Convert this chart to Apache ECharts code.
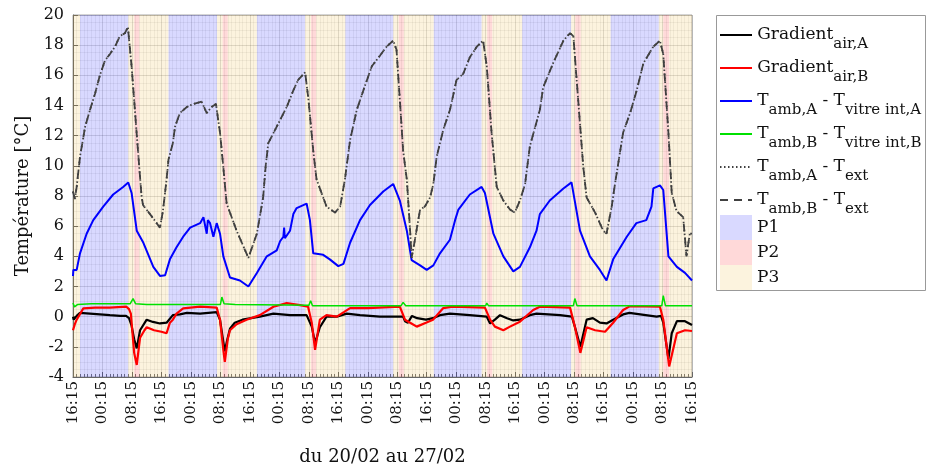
<!DOCTYPE html>
<html>
<head>
<meta charset="utf-8">
<script src="https://cdn.jsdelivr.net/npm/echarts@6/dist/echarts.min.js"></script>
<style>
  html, body { margin: 0; background: #fff; }
  #chart { width: 928px; height: 473px; }
</style>
</head>
<body>
<div id="chart"></div>
<script>
// temps en heures depuis le 20/02 16:15
const startHour = 16.25;

// Gradient air A  [h, °C]
const gradAirA = [[0,0],[0.2,-0.2],[1.0,0.05],[1.9,0.25],[4.6,0.2],[7.3,0.15],[10,0.1],[12.8,0.05],[14.4,0.05],[15.2,-0.1],[15.9,-0.6],[16.6,-1.5],[17.3,-2.1],[18.2,-0.9],[20.0,-0.2],[21.7,-0.35],[23.6,-0.45],[25.4,-0.4],[27.1,0.1],[29.0,0.15],[30.9,0.25],[34.5,0.2],[39.0,0.3],[39.9,-0.2],[40.7,-1.5],[41.2,-2.3],[41.8,-1.6],[42.6,-0.8],[43.9,-0.4],[46,-0.2],[50.7,0],[54.4,0.2],[58.9,0.1],[63.4,0.1],[64.8,-0.66],[65.7,-1.75],[67.0,-0.7],[68.8,0],[71.6,0],[74.3,0.2],[77.9,0.1],[83.3,0],[89.6,0],[90.1,-0.3],[90.9,-0.4],[92,0.05],[93.4,-0.1],[95.8,-0.2],[97.7,-0.1],[99.6,0.1],[102.3,0.2],[107.7,0.1],[112.3,0],[113.2,-0.45],[114.5,-0.2],[115.9,0.1],[117.8,-0.1],[119.5,-0.25],[121.3,-0.2],[124.0,0.1],[125.8,0.2],[132.2,0.1],[135.4,0],[136.2,-0.66],[137.7,-2.0],[139.4,-0.2],[141.1,-0.1],[143.0,-0.4],[144.8,-0.45],[146.6,-0.2],[149.3,0.15],[151,0.25],[158.4,0.0],[159.6,0.05],[160.2,-0.4],[161.6,-2.8],[162.5,-1.1],[163.9,-0.3],[166.1,-0.3],[168,-0.55]];

// Gradient air B
const gradAirB = [[0,-0.9],[0.5,-0.5],[1.0,-0.2],[2.8,0.55],[6,0.6],[10,0.6],[14.5,0.66],[15.2,0.5],[15.7,0.2],[16.6,-2.4],[17.3,-3.2],[18.2,-1.4],[19.4,-0.9],[20.0,-0.7],[22.0,-0.9],[24.0,-1.0],[25.4,-1.1],[26.3,-0.4],[27.1,-0.2],[28.1,0.2],[29.9,0.55],[34.5,0.66],[39.0,0.6],[39.9,-0.2],[40.8,-2.2],[41.2,-3.0],[42.0,-1.5],[42.6,-0.9],[44.4,-0.5],[47.1,-0.2],[50.7,0.1],[54.4,0.66],[58,0.9],[61.6,0.77],[63.8,0.66],[64.8,-0.4],[65.7,-2.2],[67.0,-0.2],[68.8,0.1],[71.6,0.0],[73.5,0.3],[75.2,0.57],[80,0.57],[88.7,0.66],[90.1,-0.2],[91.5,-0.4],[93.3,-0.66],[95.8,-0.4],[97.7,-0.2],[100.5,0.57],[103,0.66],[111.8,0.6],[113.2,-0.2],[114.5,-0.66],[116.8,-0.9],[118.6,-0.66],[121.3,-0.33],[124.9,0.44],[126.7,0.66],[134.9,0.6],[136.2,-0.66],[137.7,-2.4],[139.4,-0.7],[141.7,-0.9],[144.4,-1.0],[146.6,-0.4],[149.3,0.44],[151.2,0.7],[159.3,0.66],[160.2,-0.2],[161.8,-3.3],[163.9,-1.1],[166.1,-0.9],[168,-0.95]];

// Tamb,A - Tvitre int,A
const vitreA = [[0,2.7],[0.1,3.1],[1.0,3.1],[1.9,4.2],[3.7,5.5],[5.5,6.4],[8.2,7.3],[10.9,8.1],[13.6,8.6],[15.0,8.9],[15.9,8.2],[17.3,5.7],[19.1,4.9],[21.8,3.3],[23.6,2.7],[25.0,2.75],[26.3,3.8],[28.1,4.6],[29.9,5.3],[31.8,5.9],[34.5,6.2],[35.4,6.6],[36.3,5.5],[36.6,6.4],[37.2,6.2],[38.1,5.3],[39.0,6.2],[39.9,5.5],[40.8,4.0],[42.6,2.6],[45.3,2.4],[47.6,2.0],[49.9,2.9],[52.6,4.0],[55.3,4.4],[56.2,5.0],[57.1,5.3],[57.3,5.9],[57.5,5.2],[58.9,5.7],[59.8,6.8],[60.7,7.2],[63.4,7.5],[64.3,6.4],[65.2,4.2],[67.9,4.1],[69.7,3.8],[72.0,3.35],[73.4,3.5],[75.2,4.9],[77.9,6.4],[80.6,7.4],[84.2,8.3],[86.9,8.8],[88.7,7.7],[90.6,5.7],[91.9,3.75],[94.2,3.4],[96.0,3.1],[97.8,3.4],[99.6,4.2],[102.3,5.1],[103.7,6.4],[104.6,7.1],[107.7,8.1],[110.9,8.6],[111.8,8.2],[114.1,5.5],[116.8,4.0],[119.5,3.0],[121.3,3.3],[124.0,4.6],[125.8,5.7],[126.7,6.8],[129.4,7.7],[133.1,8.5],[135.3,8.9],[137.6,5.7],[140.3,4.0],[143.0,3.1],[144.8,2.4],[146.6,3.8],[150.3,5.3],[152.9,6.2],[155.6,6.4],[157.0,7.3],[157.5,8.5],[159.3,8.7],[160.2,8.4],[161.6,4.0],[163.9,3.3],[166.1,2.9],[168,2.4]];

// Tamb,B - Tvitre int,B
const vitreB = [[0,0.9],[0.4,0.65],[1.2,0.8],[5,0.85],[15.5,0.85],[16.3,1.2],[17,0.85],[20,0.8],[40,0.8],[40.4,1.3],[41,0.85],[44,0.8],[64,0.75],[64.5,1.05],[65,0.72],[89,0.72],[89.6,0.95],[90.3,0.72],[112,0.72],[112.3,0.9],[112.8,0.72],[135.8,0.72],[136.2,1.2],[136.8,0.72],[159.8,0.72],[160.2,1.4],[160.8,0.72],[168,0.72]];

// Tamb - Text (A et B confondus)
const extA = [[0,8.3],[0.5,7.8],[1.0,8.6],[1.9,10.6],[3.3,12.6],[4.6,13.7],[6.0,14.8],[7.3,16.0],[8.7,17.0],[10.0,17.4],[11.4,17.9],[12.7,18.6],[14.1,18.8],[14.9,19.2],[15.9,16.6],[16.8,13.7],[17.7,10.8],[18.6,8.0],[19.0,7.4],[20.9,6.8],[23.6,5.9],[24.4,7.0],[25.4,9.1],[25.9,10.4],[27.1,11.5],[27.7,12.6],[29.0,13.5],[30.9,13.9],[32.6,14.1],[34.9,14.25],[36.3,13.5],[37.6,13.9],[38.8,14.1],[39.9,12.2],[40.8,9.9],[41.7,7.5],[44.4,5.7],[47.6,3.9],[49.9,5.5],[51.6,7.9],[52.3,10.0],[53.0,11.5],[55.3,12.6],[58.0,13.9],[59.8,15.0],[61.1,15.7],[63.0,16.2],[63.9,14.4],[65.2,11.0],[66.1,9.1],[67.9,7.9],[68.8,7.3],[71.1,6.9],[72.5,7.3],[73.8,9.1],[75.2,11.7],[77.0,13.7],[78.8,15.0],[81.1,16.6],[83.3,17.3],[85.1,17.9],[86.9,18.3],[87.8,17.7],[88.7,14.4],[89.6,11.0],[90.6,9.1],[91.5,5.7],[91.9,3.9],[92.8,5.1],[94.2,7.1],[95.5,7.3],[96.9,7.9],[97.8,8.8],[98.7,10.6],[100.5,12.4],[102.3,13.7],[104.1,15.7],[105.9,16.1],[107.7,17.2],[109.6,17.9],[111.3,18.3],[112.3,16.6],[113.6,12.2],[115.0,8.6],[116.8,7.7],[118.6,7.1],[119.9,6.9],[121.3,7.7],[122.7,8.8],[124.0,11.3],[126.7,13.7],[127.6,15.2],[130.3,16.8],[133.1,18.3],[134.9,18.8],[135.8,18.6],[137.1,14.4],[138.5,9.9],[139.4,7.9],[141.7,6.9],[143.9,5.7],[144.8,5.5],[146.2,7.3],[147.1,8.8],[149.3,12.2],[151.2,13.5],[153.0,15.0],[154.8,16.8],[157.5,17.9],[159.3,18.3],[160.2,17.4],[161.6,12.2],[162.5,8.2],[163.8,7.0],[165.6,6.6],[166.5,4.0],[167.4,5.5],[168,5.5]];
const extB = extA;

// périodes [début, fin] en heures
const p1Bands = [[1.9,15],[25.9,39.1],[49.9,63],[73.9,86.9],[97.9,110.9],[121.9,135.2],[145.9,159]];
const p2Bands = [[16.6,18],[40.6,42],[64.6,66],[88.4,89.8],[112.4,113.8],[136.3,137.8],[160.2,161.8]];
const p3Bands = [[0,1.9],[15,16.6],[18,25.9],[39.1,40.6],[42,49.9],[63,64.6],[66,73.9],[86.9,88.4],[89.8,97.9],[110.9,112.4],[113.8,121.9],[135.2,136.3],[137.8,145.9],[159,160.2],[161.8,168]];

const serif = 'DejaVu Serif';

const legendText = {
  'Gradient air,A': '{p| }{m|Gradient}{s|air,A}',
  'Gradient air,B': '{p| }{m|Gradient}{s|air,B}',
  'Tamb,A - Tvitre int,A': '{p| }{m|T}{s|amb,A}{m| - T}{s|vitre int,A}',
  'Tamb,B - Tvitre int,B': '{p| }{m|T}{s|amb,B}{m| - T}{s|vitre int,B}',
  'Tamb,A - Text': '{p| }{m|T}{s|amb,A}{m| - T}{s|ext}',
  'Tamb,B - Text': '{p| }{m|T}{s|amb,B}{m| - T}{s|ext}'
};

function fmtTime(h) {
  const t = (startHour + h) % 24;
  const hh = Math.floor(t + 1e-6);
  const mm = Math.round((t - hh) * 60);
  return String(hh).padStart(2, '0') + ':' + String(mm).padStart(2, '0');
}

function lineSeries(name, data, color, width, type) {
  return {
    name, type: 'line', data, symbol: 'none', showSymbol: false,
    z: 5, animation: false,
    color,
    lineStyle: { color, width, type: type || 'solid' }
  };
}

function bandSeries(name, bands, color) {
  return {
    name, type: 'line', data: [], symbol: 'none', color,
    itemStyle: { color },
    markArea: {
      silent: true,
      itemStyle: { color },
      data: bands.map(([a, b]) => [{ xAxis: a }, { xAxis: b }])
    }
  };
}

const chart = echarts.init(document.getElementById('chart'));
chart.setOption({
  animation: false,
  grid: { left: 73, right: 236, top: 15, bottom: 96, show: true, borderColor: '#aaa', borderWidth: 1 },
  xAxis: {
    type: 'value', min: 0, max: 168, interval: 8,
    name: 'du 20/02 au 27/02', nameLocation: 'middle', nameGap: 71,
    nameTextStyle: { fontFamily: serif, fontSize: 18, color: '#111' },
    axisLine: { onZero: false, lineStyle: { color: '#666' } },
    axisTick: { inside: true, length: 5, lineStyle: { color: '#666' } },
    minorTick: { show: true, splitNumber: 8, length: 3, lineStyle: { color: '#777' } },
    axisLabel: { rotate: 90, margin: 4, fontFamily: serif, fontSize: 15, color: '#111', formatter: fmtTime },
    splitLine: { show: true, lineStyle: { color: 'rgba(0,0,0,0.14)' } },
    minorSplitLine: { show: true, lineStyle: { color: 'rgba(0,0,0,0.06)' } }
  },
  yAxis: {
    type: 'value', min: -4, max: 20, interval: 2,
    name: 'Température [°C]', nameLocation: 'middle', nameGap: 38,
    nameTextStyle: { fontFamily: serif, fontSize: 18, color: '#111' },
    axisLine: { show: true, onZero: false, lineStyle: { color: '#666' } },
    axisTick: { show: true, inside: true, length: 5, lineStyle: { color: '#666' } },
    minorTick: { show: false, splitNumber: 4 },
    axisLabel: { margin: 9, fontFamily: serif, fontSize: 16, color: '#111' },
    splitLine: { show: true, lineStyle: { color: 'rgba(0,0,0,0.14)' } },
    minorSplitLine: { show: true, lineStyle: { color: 'rgba(0,0,0,0.06)' } }
  },
  legend: [
    {
      orient: 'vertical', left: 719, top: 26.5, padding: 0, itemGap: 8,
      itemWidth: 32, itemHeight: 14,
      itemStyle: { opacity: 0 },
      data: Object.keys(legendText),
      formatter: (n) => legendText[n],
      textStyle: {
        color: '#111',
        rich: {
          p: { fontSize: 1, lineHeight: 33 },
          m: { fontFamily: serif, fontSize: 17, lineHeight: 20, verticalAlign: 'middle', color: '#111' },
          s: { fontFamily: serif, fontSize: 15, lineHeight: 12, verticalAlign: 'bottom', color: '#111' }
        }
      }
    },
    {
      orient: 'vertical', left: 720, top: 215, padding: 0, itemGap: 0,
      itemWidth: 32, itemHeight: 25, icon: 'rect',
      data: ['P1', 'P2', 'P3'],
      textStyle: { fontFamily: serif, fontSize: 17, color: '#111' }
    }
  ],
  graphic: [{
    type: 'rect', shape: { x: 716.5, y: 15.5, width: 209, height: 275 },
    style: { fill: 'none', stroke: '#999', lineWidth: 1 }, silent: true
  }],
  series: [
    bandSeries('P1', p1Bands, 'rgba(0,0,255,0.15)'),
    bandSeries('P2', p2Bands, 'rgba(255,0,0,0.15)'),
    bandSeries('P3', p3Bands, 'rgba(237,177,32,0.15)'),
    lineSeries('Gradient air,A', gradAirA, '#000000', 2.2),
    lineSeries('Gradient air,B', gradAirB, '#ff0000', 2.2),
    lineSeries('Tamb,A - Tvitre int,A', vitreA, '#0000ff', 2),
    lineSeries('Tamb,B - Tvitre int,B', vitreB, '#00e000', 1.5),
    lineSeries('Tamb,A - Text', extA, '#404040', 1.8, [1.5, 2.5]),
    lineSeries('Tamb,B - Text', extB, '#404040', 1.8, [8, 6])
  ]
});
</script>
</body>
</html>
